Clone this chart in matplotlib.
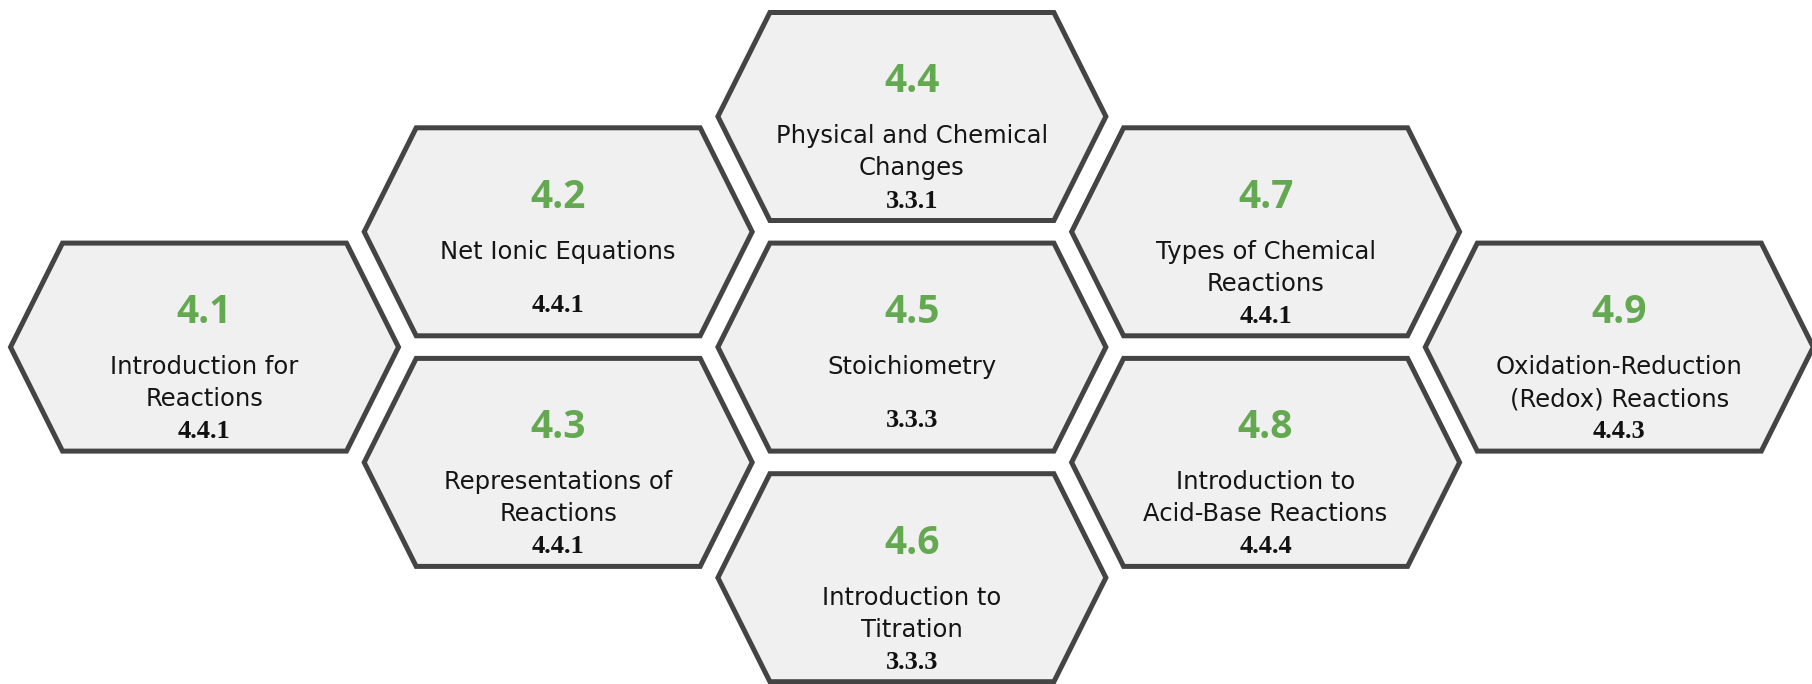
import matplotlib
matplotlib.use("Agg")
import matplotlib.pyplot as plt
from matplotlib.patches import Polygon

# chart content
numbers = ["4.1", "4.2", "4.3", "4.4", "4.5", "4.6", "4.7", "4.8", "4.9"]
titles = [
    "Introduction for\nReactions",
    "Net Ionic Equations",
    "Representations of\nReactions",
    "Physical and Chemical\nChanges",
    "Stoichiometry",
    "Introduction to\nTitration",
    "Types of Chemical\nReactions",
    "Introduction to\nAcid-Base Reactions",
    "Oxidation-Reduction\n(Redox) Reactions",
]
codes = ["4.4.1", "4.4.1", "4.4.1", "3.3.1", "3.3.3", "3.3.3", "4.4.1", "4.4.4", "4.4.3"]

# honeycomb layout: column and half-row of each cell
grid_col = [0, 1, 1, 2, 2, 2, 3, 3, 4]
grid_row = [2, 1, 3, 0, 2, 4, 1, 3, 2]

W, H = 1812, 684
X0, DX = 204.5, 353.7
Y0, DY = 116.5, 115.3
HALF_W, TOP_W, HALF_H = 194, 142, 104

EDGE = "#444444"
FILL = "#f0f0f0"
GREEN = "#65a852"

fig = plt.figure(figsize=(W / 100, H / 100), dpi=100)
ax = fig.add_axes([0, 0, 1, 1])
ax.set_xlim(0, W)
ax.set_ylim(H, 0)
ax.axis("off")

for num, title, code, c, r in zip(numbers, titles, codes, grid_col, grid_row):
    cx = X0 + c * DX
    cy = Y0 + r * DY
    pts = [(cx - HALF_W, cy), (cx - TOP_W, cy - HALF_H), (cx + TOP_W, cy - HALF_H),
           (cx + HALF_W, cy), (cx + TOP_W, cy + HALF_H), (cx - TOP_W, cy + HALF_H)]
    ax.add_patch(Polygon(pts, closed=True, facecolor=FILL, edgecolor=EDGE,
                         linewidth=3.6, joinstyle="miter"))
    ax.text(cx, cy - 24, num, ha="center", va="baseline", color=GREEN,
            fontsize=28, fontweight="bold", family="Open Sans")
    lines = title.split("\n")
    for i, line in enumerate(lines):
        ax.text(cx, cy + 27 + i * 32, line, ha="center", va="baseline",
                color="#151515", fontsize=17.5, family="DejaVu Sans")
    code_y = cy + 91 if len(lines) > 1 else cy + 80
    ax.text(cx, code_y, code, ha="center", va="baseline", color="#111111",
            fontsize=19, fontweight="bold", family="Liberation Serif")

fig.savefig("out.png", dpi=100, facecolor="white")
